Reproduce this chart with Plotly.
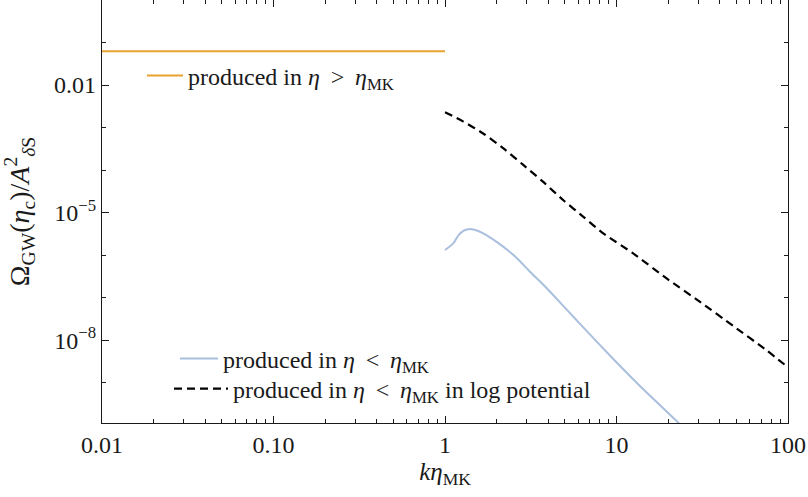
import plotly.graph_objects as go

# ---- data ----
k_orange = [0.01, 1.0]
omega_orange = [0.062, 0.062]

k_blue = [1.0, 1.12, 1.20, 1.28, 1.37, 1.50, 1.67, 2.00, 2.51, 3.13, 3.92, 5.60, 8.75, 13.7, 23.4, 31.6]
omega_blue = [1.32e-6, 1.91e-6, 2.95e-6, 3.72e-6, 4.07e-6, 3.89e-6, 3.24e-6, 2.04e-6, 1.0e-6,
              4.07e-7, 1.66e-7, 3.55e-8, 5.25e-9, 8.32e-10, 1.05e-10, 2.95e-11]

k_dash = [1.0, 1.28, 1.67, 2.19, 2.86, 3.74, 4.90, 6.41, 8.37, 12.5, 19.6, 30.7, 48.0, 75.0, 100.0]
omega_dash = [2.29e-3, 1.38e-3, 7.24e-4, 3.24e-4, 1.32e-4, 5.25e-5, 1.95e-5, 7.94e-6, 3.24e-6,
              1.10e-6, 2.82e-7, 7.94e-8, 2.14e-8, 5.75e-9, 2.29e-9]

x_tickvals = [0.01, 0.1, 1, 10, 100]
x_ticktext = ["0.01", "0.10", "1", "10", "100"]
y_tickvals = [1e-2, 1e-5, 1e-8]
y_ticktext = ["0.01", "10<sup>−5</sup>", "10<sup>−8</sup>"]

x_minor = [m * 10.0 ** e for e in range(-2, 2) for m in range(2, 10)]
y_minor = [10.0 ** e for e in range(-10, 1)]

FONT = "Liberation Serif"
INK = "#1a1a1a"
TS = "\u2009"  # thin space, mimicking math spacing around relations

fig = go.Figure()
fig.add_trace(go.Scatter(
    x=k_orange, y=omega_orange, mode="lines",
    line=dict(color="#E8A22E", width=2),
    name=f"produced in <i>η</i>{TS} > {TS}<i>η</i><sub>MK</sub>", legend="legend"))
fig.add_trace(go.Scatter(
    x=k_blue, y=omega_blue, mode="lines", line_shape="spline",
    line=dict(color="#AABFDE", width=2, smoothing=0.8),
    name=f"produced in <i>η</i>{TS} < {TS}<i>η</i><sub>MK</sub>", legend="legend2"))
fig.add_trace(go.Scatter(
    x=k_dash, y=omega_dash, mode="lines", line_shape="spline",
    line=dict(color="black", width=2.2, dash="8px,5px", smoothing=0.6),
    name=f"produced in <i>η</i>{TS} < {TS}<i>η</i><sub>MK</sub> in log potential", legend="legend3"))

axis_common = dict(
    type="log", showgrid=False, zeroline=False,
    showline=True, linecolor=INK, linewidth=1.2, mirror="allticks",
    ticks="inside", ticklen=7, tickwidth=1, tickcolor=INK,
    tickfont=dict(family=FONT, size=24, color=INK),
)

leg_font = dict(family=FONT, size=24, color=INK)

fig.update_layout(
    width=808, height=497,
    margin=dict(l=102, r=20, t=0, b=74),
    paper_bgcolor="white", plot_bgcolor="white",
    font=dict(family=FONT, color=INK),
    xaxis=dict(**axis_common, range=[-2, 2],
               tickmode="array", tickvals=x_tickvals, ticktext=x_ticktext,
               minor=dict(tickmode="array", tickvals=x_minor, ticks="inside", ticklen=4, tickcolor=INK),
               title=dict(text="<i>kη</i><sub>MK</sub>", font=dict(family=FONT, size=25), standoff=2)),
    yaxis=dict(**axis_common, range=[-9.95, 0],
               tickmode="array", tickvals=y_tickvals, ticktext=y_ticktext,
               minor=dict(tickmode="array", tickvals=y_minor, ticks="inside", ticklen=4, tickcolor=INK),
               title=dict(text="Ω<sub>GW</sub>(<i>η</i><sub>c</sub>)/<i>A</i><sup>2</sup><sub><i>δ</i>S</sub>",
                          font=dict(family=FONT, size=28), standoff=16)),
    legend=dict(x=(142 - 102) / 686, y=1 - 76 / 423, xanchor="left", yanchor="middle",
                bgcolor="rgba(0,0,0,0)", font=leg_font, itemwidth=36),
    legend2=dict(x=(175 - 102) / 686, y=1 - 359 / 423, xanchor="left", yanchor="middle",
                 bgcolor="rgba(0,0,0,0)", font=leg_font, itemwidth=38),
    legend3=dict(x=(169 - 102) / 686, y=1 - 389 / 423, xanchor="left", yanchor="middle",
                 bgcolor="rgba(0,0,0,0)", font=leg_font, itemwidth=54),
    showlegend=True,
)

fig.write_html("out.html")
